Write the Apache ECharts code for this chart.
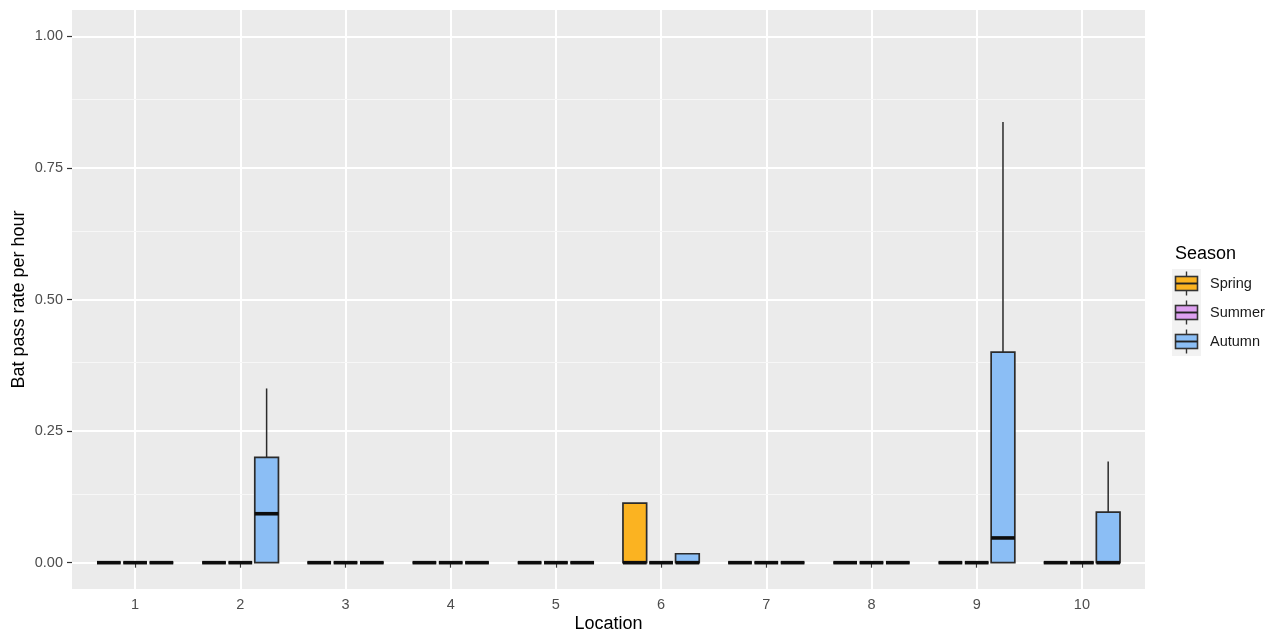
<!DOCTYPE html>
<html>
<head>
<meta charset="utf-8">
<script src="https://cdn.jsdelivr.net/npm/echarts@6/dist/echarts.min.js"></script>
<style>
  html, body { margin: 0; padding: 0; background: #fff; }
  #chart { width: 1284px; height: 637px; }
</style>
</head>
<body>
<div id="chart"></div>
<script>
// box stats per location: [lowerWhisker, q1, median, q3, upperWhisker]
const locations = [1, 2, 3, 4, 5, 6, 7, 8, 9, 10];
const seasons = ['Spring', 'Summer', 'Autumn'];
const springStats = [
  [0, 0, 0, 0, 0], [0, 0, 0, 0, 0], [0, 0, 0, 0, 0], [0, 0, 0, 0, 0], [0, 0, 0, 0, 0],
  [0, 0, 0, 0.113, 0.113], [0, 0, 0, 0, 0], [0, 0, 0, 0, 0], [0, 0, 0, 0, 0], [0, 0, 0, 0, 0]
];
const summerStats = [
  [0, 0, 0, 0, 0], [0, 0, 0, 0, 0], [0, 0, 0, 0, 0], [0, 0, 0, 0, 0], [0, 0, 0, 0, 0],
  [0, 0, 0, 0, 0], [0, 0, 0, 0, 0], [0, 0, 0, 0, 0], [0, 0, 0, 0, 0], [0, 0, 0, 0, 0]
];
const autumnStats = [
  [0, 0, 0, 0, 0], [0, 0, 0.093, 0.2, 0.331], [0, 0, 0, 0, 0], [0, 0, 0, 0, 0], [0, 0, 0, 0, 0],
  [0, 0, 0, 0.017, 0.017], [0, 0, 0, 0, 0], [0, 0, 0, 0, 0], [0, 0, 0.047, 0.4, 0.837], [0, 0, 0, 0.096, 0.192]
];
const yTicks = [0, 0.25, 0.5, 0.75, 1];
const yMinorTicks = [0.125, 0.375, 0.625, 0.875];

const colors = ['#FBB321', '#DDA0F0', '#8BBEF5'];
const dodge = [-0.25, 0, 0.25];
const boxWidth = 0.225;
const FONT = 'Liberation Sans, Arial, sans-serif';

function legendIcon(color) {
  const svg = '<svg xmlns="http://www.w3.org/2000/svg" width="29" height="29">' +
    '<rect width="29" height="29" fill="#F2F2F2"/>' +
    '<line x1="14.5" y1="2.5" x2="14.5" y2="26.5" stroke="#333" stroke-width="1.4"/>' +
    '<rect x="3.5" y="7.5" width="22" height="14" fill="' + color + '" stroke="#333" stroke-width="1.6"/>' +
    '<line x1="3.5" y1="14.5" x2="25.5" y2="14.5" stroke="#222" stroke-width="1.9"/>' +
    '</svg>';
  return 'image://data:image/svg+xml;charset=utf-8,' + encodeURIComponent(svg);
}

function makeRender(si) {
  return function (params, api) {
    const x = api.value(0) + dodge[si];
    const w = api.size([boxWidth, 0])[0];
    const lo = api.coord([x, api.value(1)]);
    const q1 = api.coord([x, api.value(2)]);
    const med = api.coord([x, api.value(3)]);
    const q3 = api.coord([x, api.value(4)]);
    const hi = api.coord([x, api.value(5)]);
    const stroke = '#2b2b2b';
    const children = [];
    if (hi[1] < q3[1] - 0.5) {
      children.push({ type: 'line', shape: { x1: q3[0], y1: q3[1], x2: hi[0], y2: hi[1] },
        style: { stroke: stroke, lineWidth: 1.5 } });
    }
    if (lo[1] > q1[1] + 0.5) {
      children.push({ type: 'line', shape: { x1: q1[0], y1: q1[1], x2: lo[0], y2: lo[1] },
        style: { stroke: stroke, lineWidth: 1.5 } });
    }
    children.push({ type: 'rect', shape: { x: q3[0] - w / 2, y: q3[1], width: w, height: q1[1] - q3[1] },
      style: { fill: colors[si], stroke: stroke, lineWidth: 1.7 } });
    children.push({ type: 'line', shape: { x1: med[0] - w / 2, y1: med[1], x2: med[0] + w / 2, y2: med[1] },
      style: { stroke: '#0d0d0d', lineWidth: 3.6 } });
    return { type: 'group', children: children };
  };
}

const statsList = [springStats, summerStats, autumnStats];
const series = seasons.map(function (name, si) {
  return {
    name: name,
    type: 'custom',
    renderItem: makeRender(si),
    itemStyle: { color: colors[si] },
    encode: { x: 0, y: [1, 2, 3, 4, 5] },
    data: locations.map(function (loc, i) { return [loc].concat(statsList[si][i]); }),
    z: 3
  };
});
// minor horizontal grid lines, kept under the boxes
series.push({
  name: 'minor',
  type: 'line',
  data: [],
  silent: true,
  z: 1,
  markLine: {
    silent: true,
    z: 1,
    symbol: 'none',
    label: { show: false },
    emphasis: { disabled: true },
    lineStyle: { color: '#F7F7F7', width: 1, type: 'solid' },
    data: yMinorTicks.map(function (v) { return { yAxis: v }; })
  }
});

const chart = echarts.init(document.getElementById('chart'));
chart.setOption({
  animation: false,
  textStyle: { fontFamily: FONT },
  title: {
    text: 'Season',
    left: 1170,
    top: 240,
    textStyle: { fontFamily: FONT, fontSize: 18, fontWeight: 'normal', color: '#000' }
  },
  legend: {
    orient: 'vertical',
    left: 1172,
    top: 269,
    padding: 0,
    itemGap: 0,
    itemWidth: 29,
    itemHeight: 29,
    selectedMode: false,
    textStyle: { fontFamily: FONT, fontSize: 14.5, color: '#1a1a1a', padding: [0, 0, 0, 4] },
    data: seasons.map(function (s, i) { return { name: s, icon: legendIcon(colors[i]) }; })
  },
  grid: {
    left: 72, right: 139, top: 10, bottom: 48,
    outerBoundsMode: 'none',
    containLabel: false,
    show: true, backgroundColor: '#EBEBEB', borderWidth: 0
  },
  xAxis: {
    type: 'value',
    min: 0.4,
    max: 10.6,
    name: 'Location',
    nameLocation: 'middle',
    nameGap: 26,
    nameMoveOverlap: false,
    nameTextStyle: { fontFamily: FONT, fontSize: 18, color: '#000' },
    axisLine: { show: false },
    axisTick: { show: true, length: 5, lineStyle: { color: '#333', width: 1.2 }, customValues: locations },
    axisLabel: { customValues: locations, margin: 8, fontSize: 14.5, color: '#4D4D4D', fontFamily: FONT },
    splitLine: { show: true, lineStyle: { color: '#FFFFFF', width: 2 } }
  },
  yAxis: {
    type: 'value',
    min: -0.05,
    max: 1.05,
    name: 'Bat pass rate per hour',
    nameLocation: 'middle',
    nameGap: 44,
    nameMoveOverlap: false,
    nameTextStyle: { fontFamily: FONT, fontSize: 18, color: '#000' },
    axisLine: { show: false },
    axisTick: { show: true, length: 5, lineStyle: { color: '#333', width: 1.2 }, customValues: yTicks },
    axisLabel: {
      customValues: yTicks, margin: 9, fontSize: 14.5, color: '#4D4D4D', fontFamily: FONT,
      formatter: function (v) { return v.toFixed(2); }
    },
    splitLine: { show: true, lineStyle: { color: '#FFFFFF', width: 2 } }
  },
  series: series
});
</script>
</body>
</html>
